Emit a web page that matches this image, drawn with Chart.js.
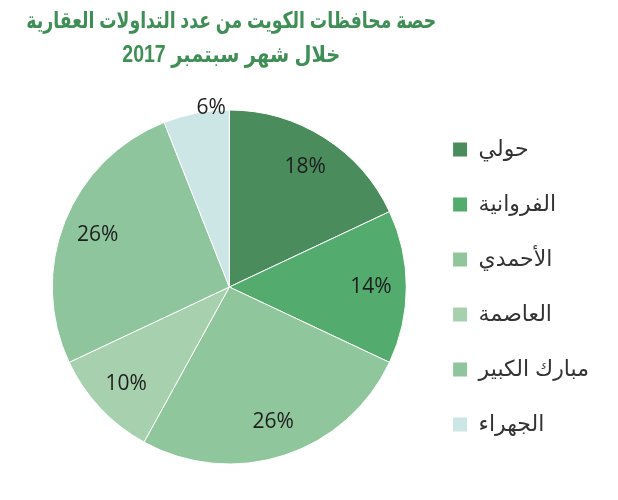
<!DOCTYPE html>
<html>
<head>
<meta charset="utf-8">
<script src="https://cdn.jsdelivr.net/npm/chart.js@4"></script>
<style>
  body { margin: 0; background: #fff; }
  #wrap { width: 618px; height: 500px; }
</style>
</head>
<body>
<div id="wrap"><canvas id="chart"></canvas></div>
<script>
// Chart data
const titleLines = ["حصة محافظات الكويت من عدد التداولات العقارية", "خلال شهر سبتمبر 2017"];
const titleWidths = [410, 218];
const regions = ["حولي", "الفروانية", "الأحمدي", "العاصمة", "مبارك الكبير", "الجهراء"];
const shares = [18, 14, 26, 10, 26, 6];
const sliceColors = ["#4a8c5c", "#53ab6e", "#90c69c", "#a7d1ae", "#8ec59d", "#cce5e5"];

const titleFamily = "'Liberation Sans', Arial, 'DejaVu Sans', sans-serif";

// Title drawn over the middle of the pie area, each line squeezed to its width
const titlePlugin = {
    id: "pieTitle",
    afterDraw(chart) {
        const ctx = chart.ctx;
        const cx = (chart.chartArea.left + chart.chartArea.right) / 2 + 2;
        titleLines.forEach((line, i) => {
            ctx.save();
            ctx.direction = "rtl";
            ctx.font = "bold 23px " + titleFamily;
            const sx = Math.min(1.2, titleWidths[i] / ctx.measureText(line).width);
            ctx.fillStyle = "#3f8e56";
            ctx.textAlign = "center";
            ctx.textBaseline = "middle";
            ctx.translate(cx, 0);
            ctx.scale(sx, 1);
            ctx.fillText(line, 0, 22 + i * 34);
            ctx.restore();
        });
    }
};

// Percent labels inside the slices (small ones sit on the rim)
const labelPlugin = {
    id: "pctLabels",
    afterDatasetsDraw(chart) {
        const ctx = chart.ctx;
        const meta = chart.getDatasetMeta(0);
        ctx.save();
        ctx.fillStyle = "#1e1e1e";
        ctx.font = "21px 'Open Sans', sans-serif";
        ctx.textAlign = "center";
        ctx.textBaseline = "middle";
        meta.data.forEach((arc, i) => {
            const p = arc.getProps(["x", "y", "startAngle", "endAngle", "outerRadius"], true);
            const mid = (p.startAngle + p.endAngle) / 2;
            const small = (p.endAngle - p.startAngle) < 0.5;
            const r = small ? p.outerRadius * 1.03 : p.outerRadius * 0.8;
            let x = p.x + Math.cos(mid) * r;
            const y = p.y + Math.sin(mid) * r;
            if (small) x += 16;
            ctx.fillText(shares[i] + "%", x, y);
        });
        ctx.restore();
    }
};

new Chart(document.getElementById("chart"), {
    type: "pie",
    data: {
        labels: regions,
        datasets: [{
            data: shares,
            backgroundColor: sliceColors,
            borderColor: "#ffffff",
            borderWidth: 1,
            radius: 177
        }]
    },
    options: {
        responsive: true,
        maintainAspectRatio: false,
        animation: false,
        layout: { padding: { top: 80, bottom: 6, left: 39, right: 19 } },
        plugins: {
            title: { display: false },
            tooltip: { enabled: false },
            legend: {
                position: "right",
                labels: {
                    font: { size: 22, family: titleFamily },
                    color: "#333",
                    boxWidth: 15,
                    boxHeight: 15,
                    padding: 33
                }
            }
        }
    },
    plugins: [titlePlugin, labelPlugin]
});
</script>
</body>
</html>
